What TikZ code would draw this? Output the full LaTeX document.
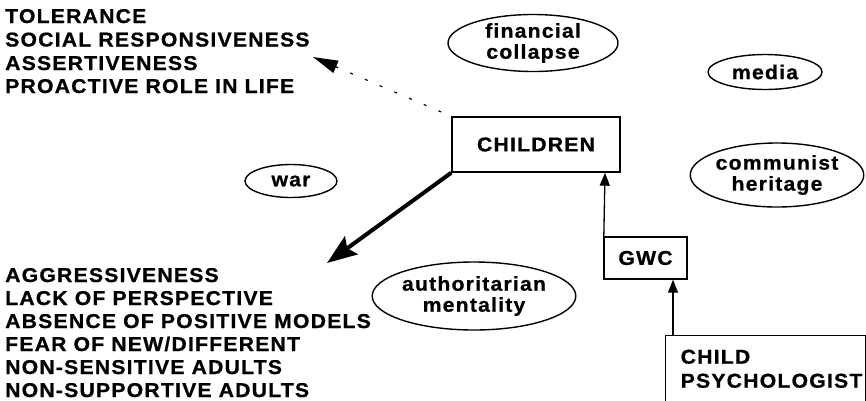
\documentclass[tikz,border=0pt]{standalone}
\usepackage{fontspec}
\newfontfamily\dfont[FakeStretch=1.06,LetterSpace=6,FakeBold=0.8]{Liberation Sans}
\usetikzlibrary{shapes.geometric,arrows.meta}
\begin{document}
\begin{tikzpicture}[x=1pt,y=-1pt,
  every node/.style={font=\dfont\bfseries\fontsize{20}{21}\selectfont, inner sep=0pt},
  listline/.style={anchor=base west},
  oval/.style={draw, ellipse, line width=1.4pt, align=center},
  rbox/.style={draw, rectangle, line width=1.4pt},
  upar/.style={line width=1.3pt, -{Triangle[length=13pt,width=10pt]}},
]
\useasboundingbox (0,0) rectangle (866,400);
% top-left list
\node[listline] (t1) at (5,23) {TOLERANCE};
\node[listline] (t2) at (5,46.5) {SOCIAL RESPONSIVENESS};
\node[listline] (t3) at (5,70) {ASSERTIVENESS};
\node[listline] (t4) at (5,93) {PROACTIVE ROLE IN LIFE};
% bottom-left list
\node[listline] (b1) at (5,282) {AGGRESSIVENESS};
\node[listline] (b2) at (5,305) {LACK OF PERSPECTIVE};
\node[listline] (b3) at (5,328) {ABSENCE OF POSITIVE MODELS};
\node[listline] (b4) at (5,351) {FEAR OF NEW/DIFFERENT};
\node[listline] (b5) at (5,374) {NON-SENSITIVE ADULTS};
\node[listline] (b6) at (5,397) {NON-SUPPORTIVE ADULTS};
% ovals
\node[oval, minimum width=170pt, minimum height=57pt] (fin) at (533,43) {financial\\collapse};
\node[oval, minimum width=114pt, minimum height=35pt] (media) at (765,72) {media};
\node[oval, minimum width=172pt, minimum height=64pt] (comm) at (777,175) {communist\\heritage};
\node[oval, minimum width=92pt, minimum height=33pt] (war) at (291,181) {war};
\node[oval, minimum width=178pt, minimum height=68pt] (auth) at (474,296) {authoritarian\\mentality};
% boxes
\node[rbox, minimum width=168pt, minimum height=55pt] (children) at (536,144.5) {CHILDREN};
\node[rbox, minimum width=83pt, minimum height=42pt] (gwc) at (645.5,258) {GWC};
\node[rbox, anchor=north west, align=left, text width=170pt, inner xsep=15pt,
  inner ysep=14pt, minimum height=63pt] (psy) at (665,335)
  {CHILD\\[3pt]PSYCHOLOGIST};
% connectors
\coordinate (dtip) at (313,57);
\coordinate (ttip) at (327,263);
\draw[line width=1.2pt, dash pattern=on 3pt off 13pt, shorten <=11pt,
  -{Triangle[length=25pt,width=13pt]}] (children.north west) -- (dtip);
\draw[line width=4pt, -{Stealth[length=30pt,width=22pt,inset=5pt]}] (children.south west) -- (ttip);
\draw[upar] (gwc.north west) ++(0.5,0) -- (children.south -| 605,0);
\draw[upar] (psy.north -| 673,0) -- (gwc.south -| 673,0);
\end{tikzpicture}
\end{document}
